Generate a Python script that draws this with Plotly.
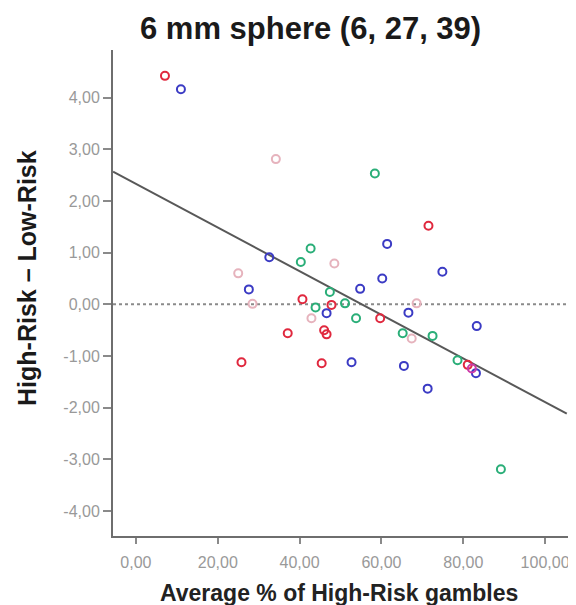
import plotly.graph_objects as go

# ---- data ----
red_x = [7.1, 71.5, 40.7, 47.8, 59.7, 37.1, 46.0, 46.6, 25.8, 45.4, 81.1]
red_y = [4.42, 1.52, 0.10, -0.01, -0.27, -0.56, -0.50, -0.58, -1.12, -1.14, -1.17]

blue_x = [11.0, 61.4, 74.9, 60.2, 54.8, 46.6, 66.6, 32.6, 27.6, 83.3, 52.7, 65.5, 71.3, 83.1]
blue_y = [4.16, 1.17, 0.63, 0.50, 0.30, -0.17, -0.16, 0.91, 0.29, -0.42, -1.12, -1.19, -1.63, -1.33]

green_x = [58.4, 47.4, 51.1, 53.8, 42.7, 40.3, 43.9, 65.2, 72.5, 78.6, 89.2]
green_y = [2.53, 0.24, 0.02, -0.27, 1.08, 0.82, -0.06, -0.56, -0.61, -1.08, -3.19]

pink_x = [34.2, 48.5, 68.6, 25.0, 28.5, 42.9, 67.4]
pink_y = [2.81, 0.79, 0.02, 0.60, 0.01, -0.27, -0.66]

magenta_x = [82.1]
magenta_y = [-1.24]

fit_intercept = 2.33
fit_slope = -0.0422
fit_x = [-5.6, 105.3]

x_ticks = [0, 20, 40, 60, 80, 100]
x_tick_labels = ["0,00", "20,00", "40,00", "60,00", "80,00", "100,00"]
y_ticks = [4, 3, 2, 1, 0, -1, -2, -3, -4]
y_tick_labels = ["4,00", "3,00", "2,00", "1,00", "0,00", "-1,00", "-2,00", "-3,00", "-4,00"]

x_range = [-5.6, 105.6]
y_range = [-4.48, 4.92]

fig = go.Figure()

# zero reference line
fig.add_trace(go.Scatter(x=x_range, y=[0, 0], mode="lines",
                         line=dict(color="#8a8a8a", width=2, dash="dot"),
                         hoverinfo="skip", showlegend=False))

# fitted line
fit_y = [fit_intercept + fit_slope * v for v in fit_x]
fig.add_trace(go.Scatter(x=fit_x, y=fit_y, mode="lines",
                         line=dict(color="#585858", width=2),
                         showlegend=False))

groups = [
    (pink_x, pink_y, "#e6b3bd"),
    (green_x, green_y, "#2aae78"),
    (red_x, red_y, "#e0283e"),
    (blue_x, blue_y, "#3b3bc4"),
    (magenta_x, magenta_y, "#cc3aa8"),
]
for gx, gy, col in groups:
    fig.add_trace(go.Scatter(x=gx, y=gy, mode="markers",
                             marker=dict(symbol="circle-open", size=8,
                                         color=col, line=dict(width=2, color=col)),
                             showlegend=False))

# page body has an 8px margin, so the figure is 8px smaller and margins shifted
fig.update_layout(
    width=568, height=597,
    margin=dict(l=105, r=8, t=42, b=69, autoexpand=False),
    paper_bgcolor="white", plot_bgcolor="white",
    font=dict(family="Liberation Sans, Arial, sans-serif"),
    xaxis=dict(range=x_range, tickvals=x_ticks, ticktext=x_tick_labels,
               showgrid=False, zeroline=False, showline=True,
               linecolor="#6e6e6e", linewidth=2, ticks="outside",
               ticklen=6, tickwidth=1.5, tickcolor="#8a8a8a",
               ticklabelstandoff=5,
               tickfont=dict(size=16, color="#999999")),
    yaxis=dict(range=y_range, tickvals=y_ticks, ticktext=y_tick_labels,
               showgrid=False, zeroline=False, showline=True,
               linecolor="#6e6e6e", linewidth=2, ticks="outside",
               ticklen=8, tickwidth=1.5, tickcolor="#8a8a8a",
               tickfont=dict(size=16, color="#999999")),
    annotations=[
        dict(text="<b>6 mm sphere (6, 27, 39)</b>", xref="paper", yref="paper",
             x=0.433, y=1.045, xanchor="center", yanchor="middle",
             showarrow=False, font=dict(size=31, color="#1a1a1a")),
        dict(text="<b>High-Risk – Low-Risk</b>", textangle=-90,
             xref="paper", yref="paper", x=-0.189, y=0.531,
             xanchor="center", yanchor="middle", showarrow=False,
             font=dict(size=25, color="#1a1a1a")),
        dict(text="<b>Average % of High-Risk gambles</b>",
             xref="paper", yref="paper", x=0.497, y=-0.117,
             xanchor="center", yanchor="middle", showarrow=False,
             font=dict(size=23, color="#222222")),
    ],
)

fig.write_html("out.html")
